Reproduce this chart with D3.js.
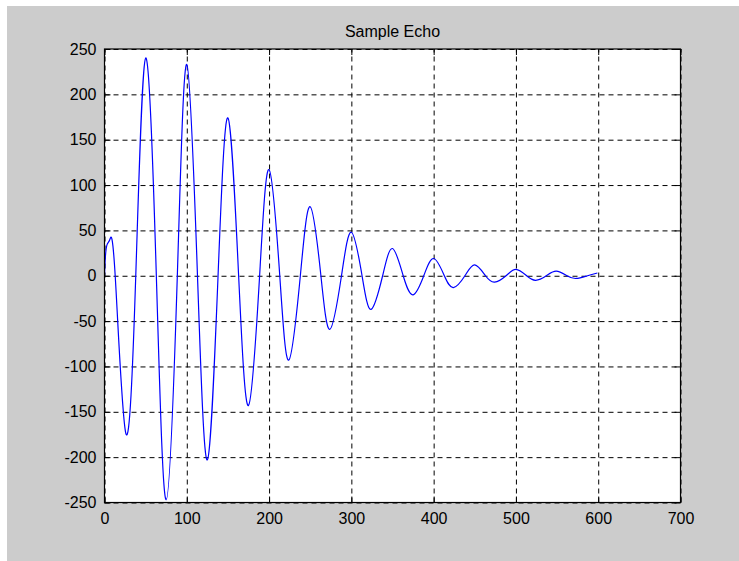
<!DOCTYPE html>
<html>
<head>
<meta charset="utf-8">
<script src="https://cdn.jsdelivr.net/npm/d3@7"></script>
<style>
  html, body { margin: 0; padding: 0; background: #ffffff; }
  svg { display: block; }
  text { font-family: "Liberation Sans", Arial, Helvetica, sans-serif; fill: #000; }
</style>
</head>
<body>
<svg id="chart" width="739" height="561"></svg>
<script>
// Chart text and axis ticks
const titleText = "Sample Echo";
const xTicks = [0, 100, 200, 300, 400, 500, 600, 700];
const yTicks = [-250, -200, -150, -100, -50, 0, 50, 100, 150, 200, 250];

// Echo trace: sample index and amplitude at its peaks, troughs and zero crossings
const echoX = [0, 1, 3, 6.5, 13, 26, 38, 50, 63, 75, 88.5, 100, 113, 125, 138, 150, 163, 175, 188.5,
  200, 213, 224, 238, 250, 263, 274, 288, 300, 313, 324, 338, 350, 363, 375, 388, 400, 413, 424,
  438, 450, 463, 474, 488, 500, 513, 524, 537, 549, 562, 573, 587, 599];
const echoY = [0, 20, 34, 40, 0, -174, 0, 240, 0, -247, 0, 233, 0, -203, 0, 174, 0, -143, 0,
  117, 0, -93, 0, 76, 0, -59, 0, 48, 0, -37, 0, 30, 0, -21, 0, 19, 0, -13,
  0, 12, 0, -7, 0, 7, 0, -5, 0, 5, 0, -3, 0, 3];

const W = 739, H = 561;
const box = { left: 104.5, right: 680.5, top: 49, bottom: 502.5 };

const svg = d3.select("#chart");

// figure background
svg.append("rect")
  .attr("x", 7).attr("y", 6)
  .attr("width", W - 7).attr("height", H - 6)
  .attr("fill", "#cccccc");

const x = d3.scaleLinear().domain([0, 700]).range([box.left, box.right]);
const y = d3.scaleLinear().domain([-250, 250]).range([box.bottom, box.top]);

// axes area
svg.append("rect")
  .attr("x", box.left).attr("y", box.top)
  .attr("width", box.right - box.left).attr("height", box.bottom - box.top)
  .attr("fill", "#ffffff");

const plotW = box.right - box.left, plotH = box.bottom - box.top;

// dashed grid
const gridX = svg.append("g")
  .attr("transform", `translate(0,${box.bottom})`)
  .call(d3.axisBottom(x).tickValues(xTicks).tickSize(-plotH).tickFormat(""));
const gridY = svg.append("g")
  .attr("transform", `translate(${box.left},0)`)
  .call(d3.axisLeft(y).tickValues(yTicks).tickSize(-plotW).tickFormat(""));
[gridX, gridY].forEach(g => {
  g.select(".domain").remove();
  g.selectAll(".tick line")
    .attr("stroke", "#000")
    .attr("stroke-width", 1)
    .attr("stroke-dasharray", "5,4");
});

// echo trace
svg.append("clipPath").attr("id", "plot-clip")
  .append("rect")
  .attr("x", box.left).attr("y", box.top)
  .attr("width", plotW).attr("height", plotH);

const pts = echoX.map((v, i) => [v, echoY[i]]);
const line = d3.line()
  .x(d => x(d[0]))
  .y(d => y(d[1]))
  .curve(d3.curveNatural);

svg.append("path")
  .datum(pts)
  .attr("clip-path", "url(#plot-clip)")
  .attr("fill", "none")
  .attr("stroke", "#0000ff")
  .attr("stroke-width", 1.2)
  .attr("d", line);

// plain integer labels with an ASCII hyphen for negatives
const plainLabel = d => String(d);

// inward tick marks on all four sides, labels on bottom and left
const tickLen = 6;
const axB = svg.append("g")
  .attr("transform", `translate(0,${box.bottom})`)
  .call(d3.axisBottom(x).tickValues(xTicks).tickSizeInner(-tickLen).tickSizeOuter(0).tickPadding(10)
    .tickFormat(plainLabel));
const axT = svg.append("g")
  .attr("transform", `translate(0,${box.top})`)
  .call(d3.axisTop(x).tickValues(xTicks).tickSizeInner(-tickLen).tickSizeOuter(0).tickFormat(""));
const axL = svg.append("g")
  .attr("transform", `translate(${box.left},0)`)
  .call(d3.axisLeft(y).tickValues(yTicks).tickSizeInner(-tickLen).tickSizeOuter(0).tickPadding(8)
    .tickFormat(plainLabel));
const axR = svg.append("g")
  .attr("transform", `translate(${box.right},0)`)
  .call(d3.axisRight(y).tickValues(yTicks).tickSizeInner(-tickLen).tickSizeOuter(0).tickFormat(""));

[axB, axT, axL, axR].forEach(g => {
  g.select(".domain").remove();
  g.attr("font-size", null).attr("font-family", null);
  g.selectAll(".tick line").attr("stroke", "#000").attr("stroke-width", 1);
  g.selectAll(".tick text").attr("fill", "#000").style("font-size", "16px");
});

// axes frame
svg.append("rect")
  .attr("x", box.left).attr("y", box.top)
  .attr("width", plotW).attr("height", plotH)
  .attr("fill", "none")
  .attr("stroke", "#000")
  .attr("stroke-width", 1.2);

// title
svg.append("text")
  .attr("x", (box.left + box.right) / 2)
  .attr("y", 37)
  .attr("text-anchor", "middle")
  .style("font-size", "16px")
  .text(titleText);
</script>
</body>
</html>
